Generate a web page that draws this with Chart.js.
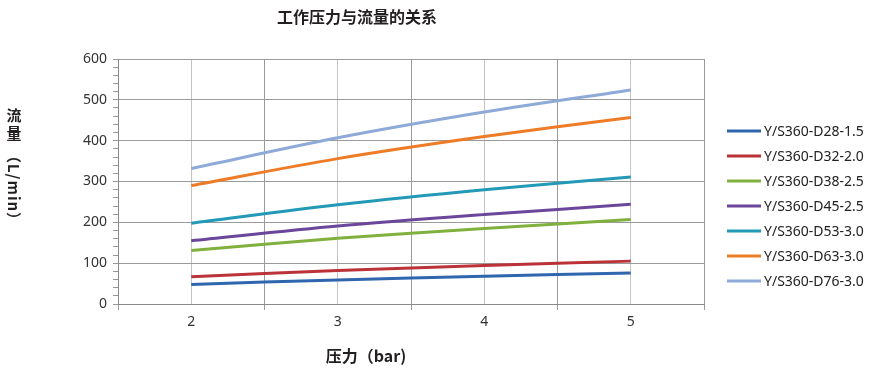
<!DOCTYPE html>
<html><head><meta charset="utf-8">
<script src="https://cdn.jsdelivr.net/npm/chart.js@4.4.1/dist/chart.umd.min.js"></script>
<style>html,body{margin:0;padding:0;background:#fff;}#wrap{width:878px;height:373px;}</style>
</head><body><div id="wrap"><canvas id="c" width="878" height="373"></canvas></div>
<script>
const pressures = [2, 3, 4, 5];
const seriesNames = ['Y/S360-D28-1.5','Y/S360-D32-2.0','Y/S360-D38-2.5','Y/S360-D45-2.5','Y/S360-D53-3.0','Y/S360-D63-3.0','Y/S360-D76-3.0'];
const d28 = [48, 59, 68, 76];
const d32 = [67, 82, 94, 105];
const d38 = [131, 161, 185, 207];
const d45 = [155, 191, 219, 244];
const d53 = [198, 243, 280, 311];
const d63 = [290, 356, 410, 457];
const d76 = [332, 407, 470, 524];
const colors = ['#2f66ad','#bb3339','#80b03d','#6b479b','#2299b6','#ee7b26','#8eaad8'];
const chartTitle = '工作压力与流量的关系';
const xTitle = '压力（bar)';

const values = [d28, d32, d38, d45, d53, d63, d76];
const datasets = values.map((v, i) => ({
  label: seriesNames[i],
  data: pressures.map((p, j) => ({x: p, y: v[j]})),
  borderColor: colors[i],
  backgroundColor: colors[i],
  borderWidth: 3,
  pointRadius: 0,
  tension: 0.3,
  fill: false
}));

const FONT = '"Noto Sans", "Noto Sans CJK SC", sans-serif';

const decor = {
  id: 'decor',
  afterDraw(chart) {
    const ctx = chart.ctx;
    ctx.save();
    // Title
    ctx.fillStyle = '#231f20';
    ctx.font = 'bold 16px "Noto Sans CJK SC", sans-serif';
    ctx.textAlign = 'center';
    ctx.textBaseline = 'middle';
    ctx.fillText(chartTitle, 357, 17);
    // X title
    ctx.fillText(xTitle, 366, 356);
    // Y title (vertical)
    ctx.font = 'bold 15px "Noto Sans CJK SC", sans-serif';
    ctx.fillText('流', 14, 115);
    ctx.fillText('量', 14, 133);
    ctx.save();
    ctx.translate(14, 188);
    ctx.rotate(Math.PI / 2);
    ctx.font = 'bold 15px "Noto Sans CJK SC", sans-serif';
    try { ctx.letterSpacing = '1px'; } catch (e) {}
    ctx.fillText('（L/min）', 0, 0);
    ctx.restore();
    // Legend
    ctx.font = '14px ' + FONT;
    ctx.textAlign = 'left';
    chart.data.datasets.forEach((ds, i) => {
      const y = 131 + i * 25;
      ctx.strokeStyle = ds.borderColor;
      ctx.lineWidth = 3;
      ctx.beginPath();
      ctx.moveTo(727, y);
      ctx.lineTo(761, y);
      ctx.stroke();
      ctx.fillStyle = '#222';
      ctx.fillText(ds.label, 764, y + 1);
    });
    ctx.restore();
  }
};

new Chart(document.getElementById('c'), {
  type: 'line',
  data: { datasets },
  options: {
    responsive: false,
    animation: false,
    layout: { padding: { left: 0, right: 174, top: 59, bottom: 0 } },
    plugins: { legend: { display: false }, title: { display: false }, tooltip: { enabled: false } },
    scales: {
      x: {
        type: 'linear',
        min: 1.5, max: 5.5,
        afterFit(s) { s.height = 69; },
        ticks: {
          stepSize: 0.5,
          autoSkip: false,
          maxRotation: 0,
          padding: 4,
          color: '#333',
          font: { family: FONT, size: 14 },
          callback: (v) => Number.isInteger(v) ? String(v) : ''
        },
        grid: {
          color: (c) => (c.tick && Number.isInteger(c.tick.value)) ? '#c4c4c4' : '#9a9a9a',
          tickColor: (c) => (c.tick && Number.isInteger(c.tick.value)) ? 'rgba(0,0,0,0)' : '#9a9a9a',
          tickLength: 6,
          lineWidth: 1
        },
        border: { color: '#8a8a8a', width: 1 }
      },
      y: {
        min: 0, max: 600,
        afterFit(s) { s.width = 118; },
        ticks: {
          stepSize: 20,
          autoSkip: false,
          padding: 6,
          color: '#333',
          font: { family: FONT, size: 14 },
          callback: (v) => (v % 100 === 0) ? String(v) : ''
        },
        grid: {
          color: (c) => (c.tick && c.tick.value % 100 === 0) ? '#9a9a9a' : 'rgba(0,0,0,0)',
          tickColor: '#9a9a9a',
          tickLength: 5,
          lineWidth: 1
        },
        border: { color: '#8a8a8a', width: 1 }
      }
    }
  },
  plugins: [decor]
});
</script></body></html>
